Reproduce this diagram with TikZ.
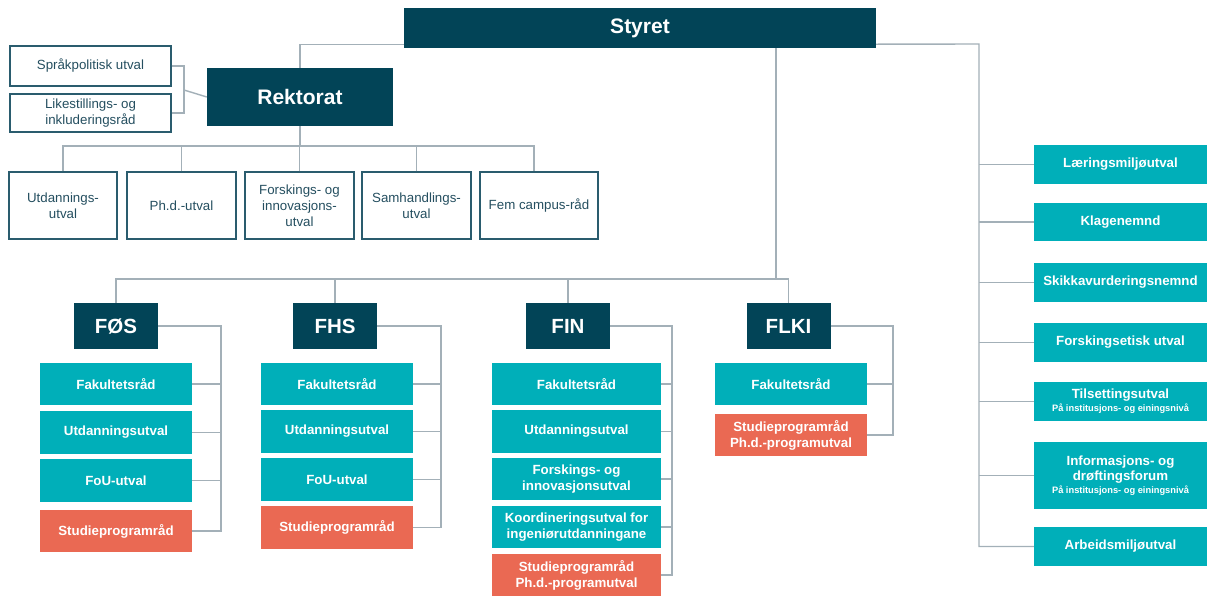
\documentclass[tikz,border=0pt]{standalone}
\usepackage{fontspec}
\setmainfont{Liberation Sans}
\usetikzlibrary{calc}
\definecolor{navy}{HTML}{024457}
\definecolor{tealc}{HTML}{00AFB9}
\definecolor{orangec}{HTML}{EA6953}
\definecolor{linegrey}{HTML}{A3B0B8}
\definecolor{outline}{HTML}{2A5C6E}
\definecolor{outtext}{HTML}{254F60}
\newcommand{\subt}[1]{{\fontsize{9.3}{11}\selectfont #1}}
\begin{document}
\begin{tikzpicture}[x=1pt,y=-1pt,
  box/.style={rectangle, inner sep=1pt, align=center, anchor=center},
  darkbox/.style={box, fill=navy, text=white, font=\bfseries\fontsize{21}{24}\selectfont},
  facbox/.style={box, fill=navy, text=white, font=\bfseries\fontsize{20.5}{24}\selectfont, minimum width=84pt, minimum height=46pt},
  outbox/.style={box, draw=outline, line width=1.3pt, fill=white, text=outtext, font=\fontsize{13.3}{16}\selectfont},
  tealbox/.style={box, fill=tealc, text=white, font=\bfseries\fontsize{13.3}{16}\selectfont},
  orangebox/.style={box, fill=orangec, text=white, font=\bfseries\fontsize{13.3}{16}\selectfont},
  conn/.style={draw=linegrey, line width=1.4pt}]
\useasboundingbox[fill=white] (0,0) rectangle (1207,595);

% top level
\node[darkbox, minimum width=472pt, minimum height=40pt] (sty) at (640,28) {\raisebox{-2pt}{Styret}};
\node[darkbox, minimum width=186pt, minimum height=58pt] (rek) at (300,97) {\raisebox{-1pt}{Rektorat}};
\node[outbox, minimum width=161pt, minimum height=40pt] (spr) at (90.5,66) {Språkpolitisk utval};
\node[outbox, minimum width=161pt, minimum height=38pt] (like) at (90.5,113) {Likestillings- og\\inkluderingsråd};

% rektorat committees
\node[outbox, minimum width=108pt, minimum height=67pt] (u1) at (63,205.5) {Utdannings-\\utval};
\node[outbox, minimum width=109pt, minimum height=67pt] (u2) at (181.5,205.5) {Ph.d.-utval};
\node[outbox, minimum width=109pt, minimum height=67pt] (u3) at (299.5,205.5) {Forskings- og\\innovasjons-\\utval};
\node[outbox, minimum width=109pt, minimum height=67pt] (u4) at (416.5,205.5) {Samhandlings-\\utval};
\node[outbox, minimum width=118pt, minimum height=67pt] (u5) at (539,205.5) {Fem campus-råd};

% faculties
\node[facbox] (fos) at (116,326) {FØS};
\node[facbox] (fhs) at (335,326) {FHS};
\node[facbox] (fin) at (568,326) {FIN};
\node[facbox] (flki) at (788.5,326) {FLKI};

% FØS
\node[tealbox, minimum width=152pt, minimum height=42pt] (fos1) at (116,384) {Fakultetsråd};
\node[tealbox, minimum width=152pt, minimum height=43pt] (fos2) at (116,432.5) {Utdanningsutval};
\node[tealbox, minimum width=152pt, minimum height=43pt] (fos3) at (116,480.5) {FoU-utval};
\node[orangebox, minimum width=152pt, minimum height=42pt] (fos4) at (116,531) {Studieprogramråd};

% FHS
\node[tealbox, minimum width=152pt, minimum height=42pt] (fhs1) at (337,384) {Fakultetsråd};
\node[tealbox, minimum width=152pt, minimum height=43pt] (fhs2) at (337,431.5) {Utdanningsutval};
\node[tealbox, minimum width=152pt, minimum height=43pt] (fhs3) at (337,479.5) {FoU-utval};
\node[orangebox, minimum width=152pt, minimum height=43pt] (fhs4) at (337,527.5) {Studieprogramråd};

% FIN
\node[tealbox, minimum width=169pt, minimum height=42pt] (fin1) at (576.5,384) {Fakultetsråd};
\node[tealbox, minimum width=169pt, minimum height=43pt] (fin2) at (576.5,431.5) {Utdanningsutval};
\node[tealbox, minimum width=169pt, minimum height=42pt] (fin3) at (576.5,479) {Forskings- og\\innovasjonsutval};
\node[tealbox, minimum width=169pt, minimum height=42pt] (fin4) at (576.5,527) {Koordineringsutval for\\ingeniørutdanningane};
\node[orangebox, minimum width=169pt, minimum height=42pt] (fin5) at (576.5,575) {Studieprogramråd\\Ph.d.-programutval};

% FLKI
\node[tealbox, minimum width=152pt, minimum height=42pt] (flki1) at (791,384) {Fakultetsråd};
\node[orangebox, minimum width=152pt, minimum height=42pt] (flki2) at (791,435) {Studieprogramråd\\Ph.d.-programutval};

% right column
\node[tealbox, minimum width=173pt, minimum height=39pt] (r1) at (1120.5,164.5) {Læringsmiljøutval};
\node[tealbox, minimum width=173pt, minimum height=38pt] (r2) at (1120.5,222) {Klagenemnd};
\node[tealbox, minimum width=173pt, minimum height=39pt] (r3) at (1120.5,282.5) {Skikkavurderingsnemnd};
\node[tealbox, minimum width=173pt, minimum height=39pt] (r4) at (1120.5,342.5) {Forskingsetisk utval};
\node[tealbox, minimum width=173pt, minimum height=39pt] (r5) at (1120.5,401.5) {Tilsettingsutval\\[-3pt]\subt{På institusjons- og einingsnivå}};
\node[tealbox, minimum width=173pt, minimum height=67pt] (r6) at (1120.5,475.5) {Informasjons- og\\[-1pt]drøftingsforum\\[-3pt]\subt{På institusjons- og einingsnivå}};
\node[tealbox, minimum width=173pt, minimum height=39pt] (r7) at (1120.5,546.5) {Arbeidsmiljøutval};

% connectors: top
\draw[conn] (rek.north) |- ($(sty.south west)+(0,-4)$);
\coordinate (rbus) at (979,44);
\draw[conn] ($(sty.south east)+(0,-4)$) -- (rbus) |- (r7.west);
\foreach \b in {r1,r2,r3,r4,r5,r6} \draw[conn] (\b.west) -- (\b.west -| rbus);

% språk / likestilling
\coordinate (lb) at (184,90);
\draw[conn] (spr.east) -| (lb) |- (like.east);
\draw[conn] (lb) -- (rek.west);

% rektorat committees bus
\coordinate (kbus) at (0,146);
\draw[conn] (rek.south) -- (rek.south |- kbus);
\draw[conn] (u1.north) -- (u1.north |- kbus) -- ($(u5.north |- kbus)+(-5,0)$) -- ($(u5.north)+(-5,0)$);
\foreach \b in {u2,u3,u4} \draw[conn] (\b.north) -- (\b.north |- kbus);

% faculties bus
\coordinate (fbus) at (0,279);
\coordinate (fdrop) at ($(sty.south west)+(372,0)$);
\draw[conn] (fdrop) -- (fdrop |- fbus);
\draw[conn] (fos.north) -- (fos.north |- fbus) -- (flki.north |- fbus) -- (flki.north);
\foreach \b in {fhs,fin} \draw[conn] (\b.north) -- (\b.north |- fbus);

% faculty brackets
\coordinate (fosbr) at (221,326);
\draw[conn] (fos.east) -- (fosbr) |- (fos4.east);
\foreach \b in {fos1,fos2,fos3} \draw[conn] (\b.east) -- (\b.east -| fosbr);
\coordinate (fhsbr) at (441,326);
\draw[conn] (fhs.east) -- (fhsbr) |- (fhs4.east);
\foreach \b in {fhs1,fhs2,fhs3} \draw[conn] (\b.east) -- (\b.east -| fhsbr);
\coordinate (finbr) at (672,326);
\draw[conn] (fin.east) -- (finbr) |- (fin5.east);
\foreach \b in {fin1,fin2,fin3,fin4} \draw[conn] (\b.east) -- (\b.east -| finbr);
\coordinate (flkibr) at (893,326);
\draw[conn] (flki.east) -- (flkibr) |- (flki2.east);
\draw[conn] (flki1.east) -- (flki1.east -| flkibr);
\end{tikzpicture}
\end{document}
